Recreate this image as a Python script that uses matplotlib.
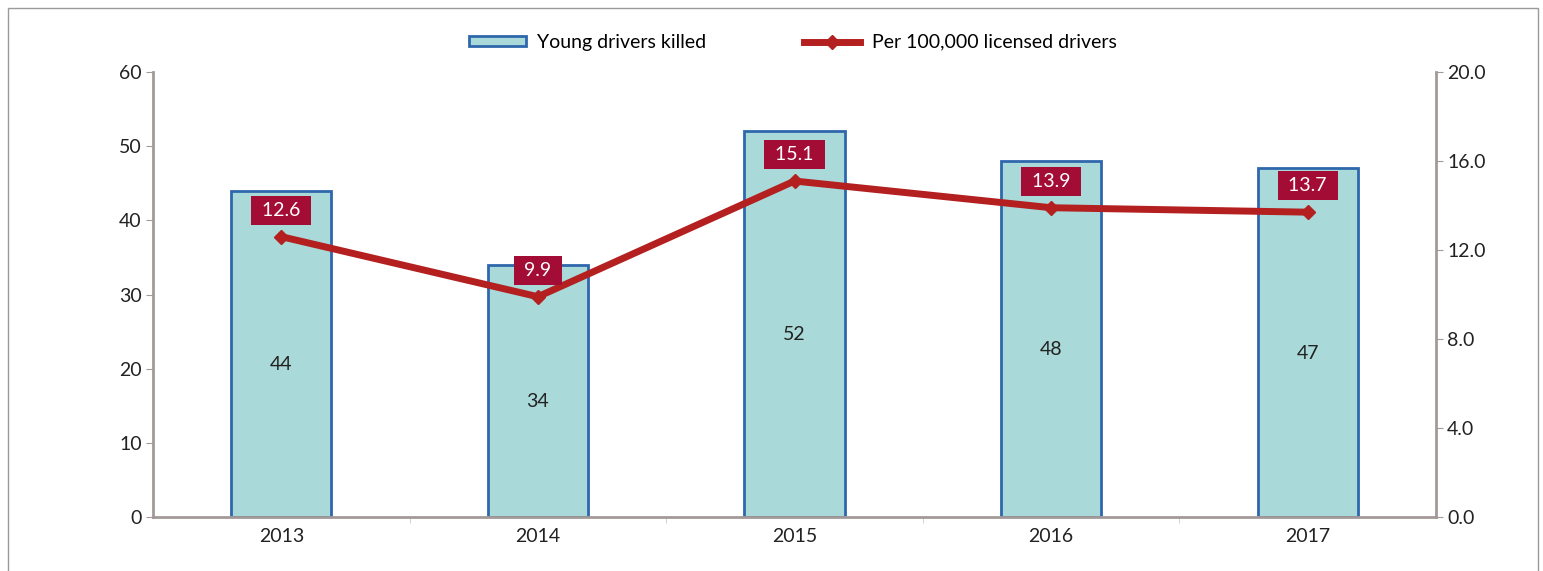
import matplotlib.pyplot as plt
import matplotlib.patches as mpatches
from matplotlib.lines import Line2D
import numpy as np

years = ['2013', '2014', '2015', '2016', '2017']
killed = [44, 34, 52, 48, 47]
per_100k = [12.6, 9.9, 15.1, 13.9, 13.7]

BAR_FILL = '#a9d9d9'
BAR_EDGE = '#2f67ad'
LINE_COLOR = '#b3201f'
BOX_COLOR = '#a30d35'
AXIS_GREY = '#a39a98'
TEXT = '#222222'

plt.rcParams['font.family'] = ['Lato', 'DejaVu Sans']

fig = plt.figure(figsize=(15.43, 5.71), dpi=100)
ax = fig.add_axes([153 / 1543, 54 / 571, 1283 / 1543, 445 / 571])
ax2 = ax.twinx()

x = np.arange(len(years))
ax.bar(x, killed, width=0.39, color=BAR_FILL, edgecolor=BAR_EDGE, linewidth=2, zorder=2)
for xi, v in zip(x, killed):
    ax.text(xi, v / 2 - 1.4, str(v), ha='center', va='center', fontsize=14, color=TEXT)

ax.set_xlim(-0.5, len(years) - 0.5)
ax.set_ylim(0, 60)
ax.set_yticks(range(0, 61, 10))
ax.set_xticks(x)
ax.set_xticklabels(years)
ax.set_xticks(np.arange(0.5, len(years) - 0.5, 1), minor=True)
ax.tick_params(axis='x', which='major', length=0, labelsize=14, labelcolor=TEXT, pad=8)
ax.tick_params(axis='x', which='minor', length=4, color='#cfc8c6')
ax.tick_params(axis='y', length=5, color=AXIS_GREY, labelsize=14, labelcolor=TEXT, pad=3)

ax2.plot(x, per_100k, color=LINE_COLOR, linewidth=5, marker='D', markersize=7, zorder=3)
for xi, v in zip(x, per_100k):
    ax2.annotate(f' {v:.1f} ', (xi, v), xytext=(0, 19), textcoords='offset points',
                 ha='center', va='center', fontsize=14, color='white',
                 bbox=dict(boxstyle='square,pad=0.3', fc=BOX_COLOR, ec='none'))
ax2.set_ylim(0, 20)
ax2.set_yticks(np.arange(0, 20.1, 4))
ax2.set_yticklabels([f'{t:.1f}' for t in np.arange(0, 20.1, 4)])
ax2.tick_params(axis='y', length=5, color=AXIS_GREY, labelsize=14, labelcolor=TEXT, pad=3)

for a in (ax, ax2):
    a.spines['top'].set_visible(False)
    for s in ('left', 'right', 'bottom'):
        a.spines[s].set_color(AXIS_GREY)
        a.spines[s].set_linewidth(2)
ax.spines['right'].set_visible(False)
ax2.spines['left'].set_visible(False)
ax2.spines['bottom'].set_visible(False)

handles = [
    mpatches.Patch(facecolor=BAR_FILL, edgecolor=BAR_EDGE, linewidth=2),
    Line2D([0], [0], color=LINE_COLOR, linewidth=5, marker='D', markersize=7),
]
fig.legend(handles, ['Young drivers killed', 'Per 100,000 licensed drivers'],
           loc='center', bbox_to_anchor=(0.514, 0.926), ncol=2, frameon=False,
           fontsize=14, handlelength=2.9, handleheight=0.45, columnspacing=5.0, handletextpad=0.6)

fig.add_artist(mpatches.Rectangle((8 / 1543, -0.1), 1530 / 1543, 1.1 - 8 / 571,
                                  transform=fig.transFigure, fill=False,
                                  edgecolor='#9a9a9a', linewidth=1))

fig.savefig('out.png', dpi=100)
